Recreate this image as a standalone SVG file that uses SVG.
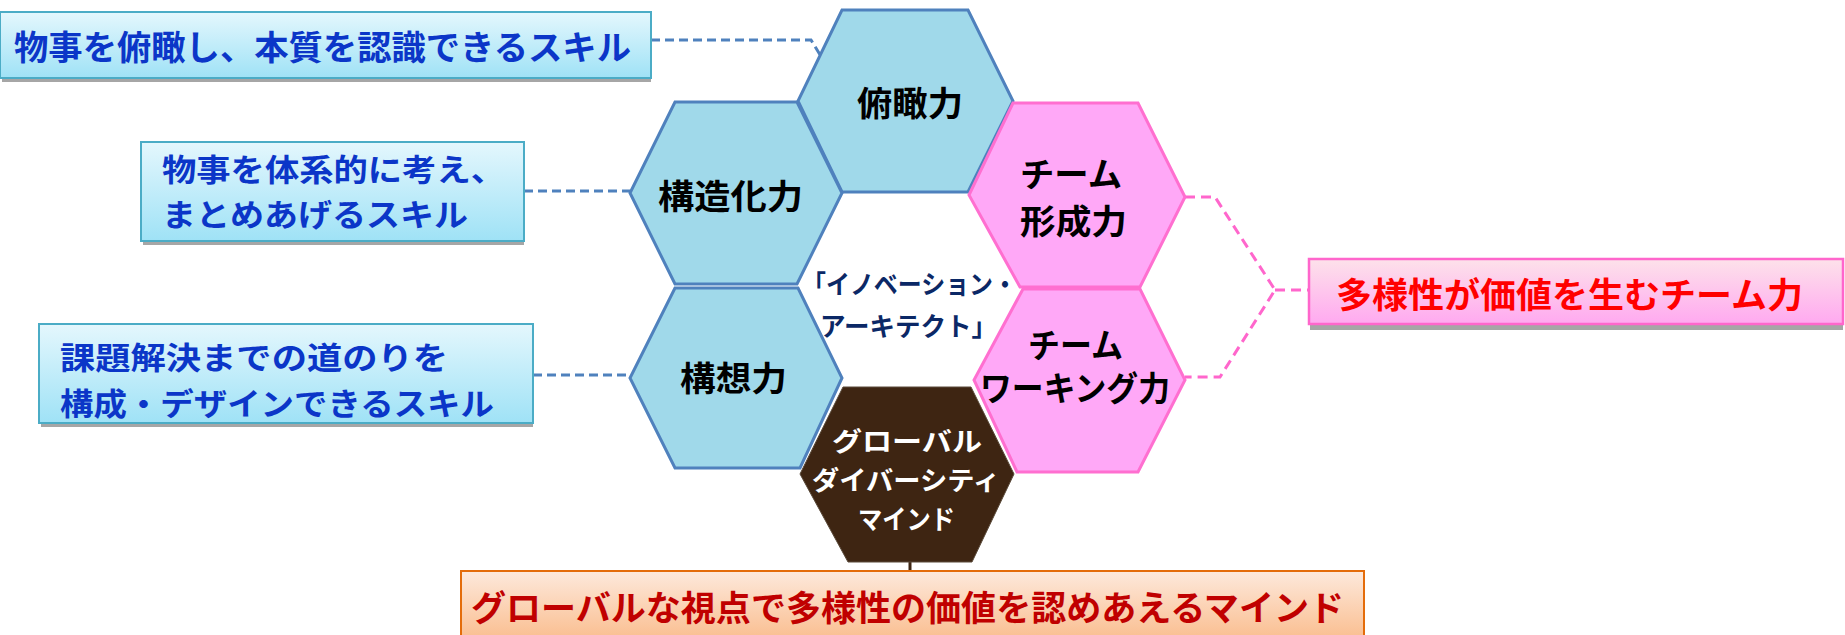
<svg xmlns="http://www.w3.org/2000/svg" width="1845" height="635" viewBox="0 0 1845 635">
<defs>
<linearGradient id="gBlue" x1="0" y1="0" x2="0" y2="1"><stop offset="0" stop-color="#e4f7fd"/><stop offset="1" stop-color="#9fe2f6"/></linearGradient>
<linearGradient id="gPink" x1="0" y1="0" x2="0" y2="1"><stop offset="0" stop-color="#fde2ea"/><stop offset="1" stop-color="#ffa9f0"/></linearGradient>
<linearGradient id="gOrange" x1="0" y1="0" x2="0" y2="1"><stop offset="0" stop-color="#fde9dc"/><stop offset="1" stop-color="#fabd8e"/></linearGradient>
<style>
text{font-family:"Noto Sans CJK JP","Noto Sans CJK SC",sans-serif;font-weight:bold}
.hb{fill:#a0d9ea;stroke:#4f81bd;stroke-width:3}
.hp{fill:#ffa8f7;stroke:#ff6fd0;stroke-width:3}
.hd{fill:#3e2512;stroke:#5a4a3a;stroke-width:1}
.bb{fill:url(#gBlue);stroke:#4bacc6;stroke-width:2}
.bp{fill:url(#gPink);stroke:#ff66cc;stroke-width:2.5}
.bo{fill:url(#gOrange);stroke:#e46c0a;stroke-width:2}
.sh{fill:#a6a6a6}
.tb{fill:#0b36c8;font-size:34px}
.tb2{fill:#0b36c8;font-size:31px}
.tk{fill:#000;font-size:34px}
.tw{fill:#fff;font-size:26.5px}
.tn{fill:#0b2866;font-size:26px}
.cb{fill:none;stroke:#4f81bd;stroke-width:3;stroke-dasharray:9 5}
.cp{fill:none;stroke:#ff66cc;stroke-width:3;stroke-dasharray:10 6}
</style>
</defs>
<rect width="1845" height="635" fill="#fff"/>

<g id="connectors">
<path class="cb" d="M651,40 H811 L822,58"/>
<path class="cb" d="M524,191 H630"/>
<path class="cb" d="M533,375 H630"/>
<path class="cp" d="M1185,197 H1215 L1275,290 L1220,377 H1185"/>
<path class="cp" d="M1275,290 H1309"/>
<path d="M910,562 V571" stroke="#3e2512" stroke-width="3"/>
</g>

<g id="box-fukan">
<rect class="sh" x="2" y="78" width="649" height="4"/>
<rect class="bb" x="0" y="12" width="651" height="66"/>
<text class="tb" x="14" y="60" textLength="617" lengthAdjust="spacingAndGlyphs">物事を俯瞰し、本質を認識できるスキル</text>
</g>

<g id="box-kozoka">
<rect class="sh" x="143" y="241" width="381" height="4"/>
<rect class="bb" x="141" y="142" width="383" height="99"/>
<text class="tb2" x="162" y="181" textLength="343" lengthAdjust="spacingAndGlyphs">物事を体系的に考え、</text>
<text class="tb2" x="162" y="226" textLength="306" lengthAdjust="spacingAndGlyphs">まとめあげるスキル</text>
</g>

<g id="box-koso">
<rect class="sh" x="41" y="423" width="492" height="4"/>
<rect class="bb" x="39" y="324" width="494" height="99"/>
<text class="tb2" x="60" y="369" textLength="388" lengthAdjust="spacingAndGlyphs">課題解決までの道のりを</text>
<text class="tb2" x="60" y="415" textLength="434" lengthAdjust="spacingAndGlyphs">構成・デザインできるスキル</text>
</g>

<g id="box-team">
<rect class="sh" x="1310" y="324" width="533" height="6"/>
<rect class="bp" x="1309" y="259" width="534" height="65"/>
<text x="1336" y="308" fill="#ff0000" font-size="35" textLength="467" lengthAdjust="spacingAndGlyphs">多様性が価値を生むチーム力</text>
</g>

<g id="box-global">
<rect class="bo" x="461" y="571" width="903" height="70"/>
<text x="471" y="621" fill="#c00000" font-size="35" textLength="873" lengthAdjust="spacingAndGlyphs">グローバルな視点で多様性の価値を認めあえるマインド</text>
</g>

<g id="hex-fukan">
<polygon class="hb" points="842,10 968,10 1013,101 968,192 842,192 798,101"/>
<text class="tk" x="857" y="116" font-size="36" textLength="106" lengthAdjust="spacingAndGlyphs">俯瞰力</text>
</g>

<g id="hex-kozoka">
<polygon class="hb" points="675,102 797,102 842,193 797,284 675,284 630,193"/>
<text class="tk" x="658" y="209" textLength="145" lengthAdjust="spacingAndGlyphs">構造化力</text>
</g>

<g id="hex-koso">
<polygon class="hb" points="675,288 798,288 842,378 800,468 675,468 630,378"/>
<text class="tk" x="680" y="391" textLength="107" lengthAdjust="spacingAndGlyphs">構想力</text>
</g>

<g id="hex-team1">
<polygon class="hp" points="1013,103 1138,103 1185,197 1140,287 1020,287 969,195"/>
<text class="tk" x="1020" y="187" font-size="31" textLength="102" lengthAdjust="spacingAndGlyphs">チーム</text>
<text class="tk" x="1020" y="234" font-size="32" textLength="107" lengthAdjust="spacingAndGlyphs">形成力</text>
</g>

<g id="hex-team2">
<polygon class="hp" points="1023,289 1140,289 1185,380 1138,472 1017,472 974,380"/>
<text class="tk" x="1028" y="358" font-size="28" textLength="95" lengthAdjust="spacingAndGlyphs">チーム</text>
<text class="tk" x="980" y="401" font-size="30" textLength="190" lengthAdjust="spacingAndGlyphs">ワーキング力</text>
</g>

<g id="hex-global">
<polygon class="hd" points="843,387 971,387 1014,474 972,562 848,562 800,474"/>
<text class="tw" x="832" y="451" textLength="150" lengthAdjust="spacingAndGlyphs">グローバル</text>
<text class="tw" x="812" y="490" textLength="188" lengthAdjust="spacingAndGlyphs">ダイバーシティ</text>
<text class="tw" x="858" y="529" textLength="97" lengthAdjust="spacingAndGlyphs">マインド</text>
</g>

<g id="center-label">
<text class="tn"><tspan x="802" y="294" textLength="215" lengthAdjust="spacingAndGlyphs">「イノベーション・</tspan><tspan x="820" y="336" textLength="177" lengthAdjust="spacingAndGlyphs">アーキテクト」</tspan></text>
</g>
</svg>
